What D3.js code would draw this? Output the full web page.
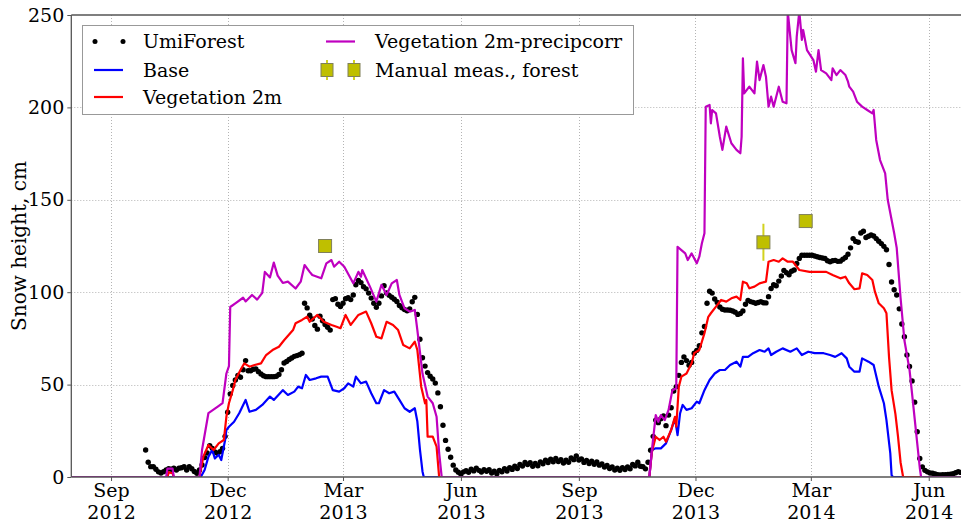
<!DOCTYPE html>
<html>
<head>
<meta charset="utf-8">
<script src="https://cdn.jsdelivr.net/npm/d3@7"></script>
<style>
  body { margin: 0; background: #fff; }
  svg { display: block; }
  text { font-family: "DejaVu Serif", serif; fill: #000; }
</style>
</head>
<body>
<svg id="chart" width="961" height="523"></svg>
<script>
// ---- Data ---------------------------------------------------------------
// UmiForest observed snow depth: one reading every umiStepDays from umiStart
const umiStart = "2012-09-28";
const umiStepDays = 2;
const umiValues = [
  14.6, 8, 5.6, 5.6, 4.2, 2.8, 2.2, 2.9, 3.8, 4.5,
  4.2, 4.7, 3.8, 4.7, 5, 5.6, 3.8, 5.6, 4.5, 3,
  2, 3.8, 6.5, 10.5, 13, 17, 15.5, 13.5, 12.8, 13.7,
  15.5, 22, 35, 45, 49.5, 52.5, 55, 54, 58, 63,
  57.5, 57.5, 58.3, 58.5, 57, 55.7, 54.8, 54.3, 54.3, 54.3,
  54.3, 54.5, 55.5, 58, 61.7, 62.5, 63.6, 64.4, 65.3, 65.7,
  66.2, 67, 94, 91.5, 87.5, 85.5, 82, 80, 87, 84.5,
  82.5, 81, 79.5, 96, 96.5, 93.5, 92.2, 94, 96.5, 97,
  96, 98.5, 104, 106.3, 105.2, 103, 101.8, 99.5, 96.8, 94,
  91.8, 94, 98, 103.5, 99.6, 98.3, 97.3, 96.2, 95, 92.8,
  91.6, 90.6, 90, 91, 94.8, 97.2, 88, 74.5, 64.5, 60,
  56.5, 54.5, 53, 50.8, 45.5, 38, 28, 19.8, 15, 10.7,
  6.4, 3.8, 2.6, 1.5, 2.8, 3.4, 2.6, 4.2, 3.3, 4.8,
  3.6, 2.7, 4, 3.1, 3.9, 2.2, 3.2, 1.8, 3.6, 2.8,
  4.5, 3.2, 5, 4.1, 5.8, 4.6, 6.8, 5.9, 7.9, 6.7,
  7.8, 5.8, 7.3, 6.1, 8.2, 7.2, 9.1, 7.8, 9.6, 8.2,
  10, 8.4, 9.4, 7.6, 9.1, 8, 10.3, 9.4, 11.4, 9.2,
  9.8, 7.9, 9, 7.3, 8.5, 6.9, 8.1, 6.4, 7.1, 5.4,
  6.3, 4.6, 5.5, 3.8, 4.8, 3.6, 5.1, 4, 5.4, 4.5,
  6.8, 6, 8, 5.8, 5.6, 4.4, 8, 14.5, 22, 30.8,
  29.4, 31.5, 33, 27.8, 33.5, 37.5, 46.5, 48.9, 55, 62,
  65, 63, 60.5, 62, 67, 68.5, 71, 78, 81.5, 94,
  100.5, 99.5, 96.3, 94.4, 92, 90.8, 90.4, 90.4, 90.2, 89.8,
  89.2, 88, 88.5, 89.8, 93.5, 95.6, 94.9, 94.5, 94, 94.4,
  94.9, 94.3, 94.2, 97.6, 102, 104, 103.5, 106, 108.8, 111.8,
  110.5, 109.4, 111.3, 112, 115.5, 118.3, 120, 120, 120, 120,
  120, 119.6, 119.2, 118.8, 118.5, 118.2, 117, 116.5, 117, 117.2,
  116.7, 116.8, 117.8, 118.8, 120.5, 124, 129, 127.5, 127, 132,
  133, 129.6, 130.3, 131, 130.4, 129, 127.6, 126.3, 124.8, 123,
  115, 105.5, 101.3, 98.5, 91, 82.8, 75.9, 66, 59.8, 52,
  40.5, 24.5, 10, 5.5, 3.6, 2.8, 2.2, 2, 1.6, 1.3,
  1.1, 1.2, 1.3, 1.4, 1.5, 1.8, 2.3, 2.9, 2.5, 2.5
];

// Modelled snow depth, [date, cm]
const baseSeries = [
  ["2012-08-01",0],["2012-11-10",0],["2012-11-13",3.8],["2012-11-16",11],["2012-11-19",14.6],
  ["2012-11-21",10],["2012-11-24",12],["2012-11-26",9.2],["2012-11-29",20],["2012-11-30",25.4],
  ["2012-12-02",27.2],["2012-12-06",29.9],["2012-12-10",34.5],["2012-12-15",41.7],["2012-12-18",35.3],
  ["2012-12-23",36.3],["2012-12-28",39],["2013-01-03",43.5],["2013-01-06",41.7],["2013-01-13",47],
  ["2013-01-17",44.4],["2013-01-22",46.2],["2013-01-25",48.9],["2013-01-28",48],["2013-01-31",55.2],
  ["2013-02-03",52.5],["2013-02-08",53.4],["2013-02-12",54.3],["2013-02-17",54.3],["2013-02-21",47],
  ["2013-02-26",46.2],["2013-03-02",48],["2013-03-05",50.7],["2013-03-09",48.9],["2013-03-11",54.3],
  ["2013-03-15",50.7],["2013-03-19",51.6],["2013-03-23",45.3],["2013-03-27",39.9],["2013-03-29",39.9],
  ["2013-04-02",47],["2013-04-06",45.3],["2013-04-10",46.2],["2013-04-14",41.7],["2013-04-18",37.2],
  ["2013-04-22",35.3],["2013-04-26",37.2],["2013-04-28",30],["2013-04-30",15],["2013-05-02",3],
  ["2013-05-03",0],["2013-10-26",0],["2013-10-28",14.6],["2013-10-31",15.5],["2013-11-04",15.5],
  ["2013-11-08",18.2],["2013-11-12",25.4],["2013-11-15",31.7],["2013-11-17",22.7],["2013-11-19",34.5],
  ["2013-11-21",39],["2013-11-24",36.3],["2013-11-28",37.2],["2013-12-02",40.8],["2013-12-04",39.9],
  ["2013-12-08",47],["2013-12-12",52.5],["2013-12-16",56],["2013-12-20",57.9],["2013-12-24",57.9],
  ["2013-12-28",60.6],["2014-01-02",62.4],["2014-01-05",59.7],["2014-01-07",65],["2014-01-11",65],
  ["2014-01-15",67],["2014-01-20",68.7],["2014-01-24",67.8],["2014-01-27",69.6],["2014-01-29",66],
  ["2014-02-02",67.8],["2014-02-07",69.6],["2014-02-13",67.8],["2014-02-18",69.6],["2014-02-22",66],
  ["2014-02-27",67.8],["2014-03-04",67],["2014-03-11",67],["2014-03-16",66],["2014-03-20",65],
  ["2014-03-25",67],["2014-03-29",64.2],["2014-03-31",59.7],["2014-04-04",57],["2014-04-08",57],
  ["2014-04-10",64.2],["2014-04-15",62.4],["2014-04-19",60.6],["2014-04-23",48.9],["2014-04-27",39.9],
  ["2014-04-29",30.8],["2014-05-02",12.8],["2014-05-03",1],["2014-05-04",0],["2014-07-01",0]
];

const veg2mSeries = [
  ["2012-08-01",0],["2012-10-15",0],["2012-10-16",2.5],["2012-10-19",2],["2012-10-20",0],
  ["2012-11-09",0],["2012-11-12",11],["2012-11-16",17.3],["2012-11-20",14.6],["2012-11-24",18.2],
  ["2012-11-28",20],["2012-11-30",32.6],["2012-12-02",39.9],["2012-12-05",47],["2012-12-07",52.5],
  ["2012-12-11",57.9],["2012-12-14",61.5],["2012-12-18",59.7],["2012-12-22",60.6],["2012-12-27",61.5],
  ["2012-12-31",66],["2013-01-05",68.7],["2013-01-10",70.5],["2013-01-14",74],["2013-01-21",79.5],
  ["2013-01-23",83.2],["2013-01-28",85],["2013-02-01",86.7],["2013-02-03",84],["2013-02-09",87.7],
  ["2013-02-14",84],["2013-02-20",82.3],["2013-02-24",81.3],["2013-02-27",80.5],["2013-03-03",87.7],
  ["2013-03-07",82.3],["2013-03-13",87.7],["2013-03-16",88.6],["2013-03-19",89.5],["2013-03-23",83.2],
  ["2013-03-27",75.9],["2013-03-31",75],["2013-04-04",84],["2013-04-09",82.3],["2013-04-13",79.5],
  ["2013-04-17",71.4],["2013-04-22",69.6],["2013-04-26",73.2],["2013-04-28",68.7],["2013-05-01",48.9],
  ["2013-05-04",39.9],["2013-05-05",41.7],["2013-05-06",21.8],["2013-05-10",21.8],["2013-05-13",16.4],
  ["2013-05-15",0],["2013-10-26",0],["2013-10-28",13.7],["2013-10-31",21.8],["2013-11-03",20],
  ["2013-11-06",21.8],["2013-11-08",19.1],["2013-11-12",25.4],["2013-11-15",32.6],["2013-11-16",27.2],
  ["2013-11-18",48.9],["2013-11-20",54.3],["2013-11-24",56],["2013-11-28",61.5],["2013-11-30",67],
  ["2013-12-04",68.7],["2013-12-08",77.8],["2013-12-11",86.7],["2013-12-13",88.6],["2013-12-17",92.2],
  ["2013-12-21",95.8],["2013-12-25",94.9],["2013-12-29",96.7],["2014-01-02",97.6],["2014-01-05",95.8],
  ["2014-01-07",105.7],["2014-01-10",104.8],["2014-01-12",102.1],["2014-01-16",103],["2014-01-20",104.8],
  ["2014-01-25",105.7],["2014-01-27",116.5],["2014-01-31",117.4],["2014-02-04",116.5],["2014-02-07",118.3],
  ["2014-02-11",116.5],["2014-02-15",116.5],["2014-02-18",113.8],["2014-02-20",112],["2014-02-28",111],
  ["2014-03-08",111],["2014-03-13",111],["2014-03-18",109.3],["2014-03-24",107.5],["2014-03-28",108.4],
  ["2014-03-31",104.8],["2014-04-04",101.6],["2014-04-08",102.1],["2014-04-10",110.2],["2014-04-14",109.3],
  ["2014-04-18",106.6],["2014-04-20",100.3],["2014-04-23",94],["2014-04-27",91.3],["2014-04-29",88.6],
  ["2014-05-01",65],["2014-05-03",47],["2014-05-06",34],["2014-05-08",22],["2014-05-10",8],
  ["2014-05-12",0],["2014-07-01",0]
];

const veg2mPrecipSeries = [
  ["2012-08-01",0],["2012-10-14",0],["2012-10-15",4.5],["2012-10-19",4.5],["2012-10-20",0],
  ["2012-11-09",0],["2012-11-11",14.6],["2012-11-16",34.6],["2012-11-23",38],["2012-11-27",40],
  ["2012-11-30",56],["2012-12-02",60],["2012-12-03",92],["2012-12-07",94],["2012-12-13",97],
  ["2012-12-15",95],["2012-12-20",98.5],["2012-12-24",96],["2012-12-28",99.6],["2012-12-30",111],
  ["2013-01-03",108],["2013-01-06",116],["2013-01-09",109],["2013-01-13",105],["2013-01-17",105.7],
  ["2013-01-23",102],["2013-01-27",105.7],["2013-01-30",114.7],["2013-02-03",111],["2013-02-05",109.3],
  ["2013-02-12",107.5],["2013-02-16",115.6],["2013-02-20",117.4],["2013-02-22",113.8],["2013-02-26",116.5],
  ["2013-03-02",113.8],["2013-03-09",104.8],["2013-03-13",111],["2013-03-15",108.4],["2013-03-16",112],
  ["2013-03-22",103],["2013-03-27",94.9],["2013-03-31",104],["2013-04-04",98.5],["2013-04-08",104.8],
  ["2013-04-12",106.6],["2013-04-14",98.5],["2013-04-18",91.3],["2013-04-22",89.5],["2013-04-26",90.4],
  ["2013-04-28",79.5],["2013-05-02",56],["2013-05-06",43.5],["2013-05-10",39.9],["2013-05-13",32.6],
  ["2013-05-15",13],["2013-05-17",0],["2013-10-26",0],["2013-10-28",14.6],["2013-10-31",33.5],
  ["2013-11-02",29.9],["2013-11-04",33.5],["2013-11-07",30.8],["2013-11-10",36.3],["2013-11-13",47],
  ["2013-11-16",48],["2013-11-17",124.6],["2013-11-20",122.8],["2013-11-23",121],["2013-11-25",117.4],
  ["2013-11-28",121],["2013-12-02",115.6],["2013-12-04",119.2],["2013-12-06",126.5],["2013-12-08",131.9],
  ["2013-12-09",200.4],["2013-12-12",201.3],["2013-12-13",191.4],["2013-12-14",198.6],["2013-12-17",196.8],
  ["2013-12-20",184.1],["2013-12-22",177],["2013-12-25",189.6],["2013-12-29",180.6],["2014-01-02",177],
  ["2014-01-05",175.2],["2014-01-06",184.1],["2014-01-07",226.6],["2014-01-08",207.6],["2014-01-12",211.2],
  ["2014-01-16",207.6],["2014-01-18",224.8],["2014-01-20",214.8],["2014-01-23",222.9],["2014-01-25",216.6],
  ["2014-01-27",200.4],["2014-01-29",205.8],["2014-01-31",200.4],["2014-02-04",211.2],["2014-02-07",203.1],
  ["2014-02-10",202.2],["2014-02-11",252],["2014-02-14",231],["2014-02-17",223.9],["2014-02-18",238.3],
  ["2014-02-20",252],["2014-02-22",236.5],["2014-02-23",241.9],["2014-02-26",231],["2014-03-03",225.6],
  ["2014-03-05",219.3],["2014-03-07",231],["2014-03-09",220.2],["2014-03-13",218.4],["2014-03-17",214.8],
  ["2014-03-18",221.1],["2014-03-21",217.5],["2014-03-24",220.2],["2014-03-28",217.5],["2014-03-30",213.9],
  ["2014-03-31",211.2],["2014-04-03",208.5],["2014-04-06",203.1],["2014-04-10",200.4],["2014-04-14",198.6],
  ["2014-04-18",196.8],["2014-04-19",198.6],["2014-04-21",182.4],["2014-04-24",171.5],["2014-04-28",164.3],
  ["2014-04-30",150],["2014-05-05",132],["2014-05-07",124],["2014-05-10",97],["2014-05-13",74],
  ["2014-05-17",58],["2014-05-19",45],["2014-05-22",25],["2014-05-25",5],["2014-05-26",0],
  ["2014-07-01",0]
];

// Manual snow depth measurements in the forest, with spread
const manualDates = ["2013-02-15", "2014-01-23", "2014-02-25"];
const manualValues = [125, 127, 138.5];
const manualErrors = [2, 10, 2];

// Axis ticks
const xTickDates = ["2012-09-01","2012-12-01","2013-03-01","2013-06-01",
                    "2013-09-01","2013-12-01","2014-03-01","2014-06-01"];
const yTicks = [0, 50, 100, 150, 200, 250];

// ---- Chart --------------------------------------------------------------
const parse = d3.timeParse("%Y-%m-%d");
const svg = d3.select("#chart");

const plot = { left: 71.3, right: 967.2, top: 15, bottom: 477 };

const x = d3.scaleTime()
  .domain([parse("2012-08-01"), parse("2014-07-01")])
  .range([plot.left, plot.right]);
const y = d3.scaleLinear().domain([0, 250]).range([plot.bottom, plot.top]);

const colors = { base: "#0000ff", veg: "#ff0000", precip: "#bf00bf", manual: "#bfbf00" };

svg.append("defs").append("clipPath").attr("id", "plotClip")
  .append("rect")
  .attr("x", plot.left).attr("y", plot.top)
  .attr("width", plot.right - plot.left).attr("height", plot.bottom - plot.top);

// grid
const grid = svg.append("g").attr("stroke", "#b4b4b4").attr("stroke-width", 1)
  .attr("stroke-dasharray", "1,2");
grid.selectAll("line.h").data(yTicks.filter(v => v > 0 && v < 250)).join("line")
  .attr("x1", plot.left).attr("x2", plot.right)
  .attr("y1", d => Math.round(y(d)) + 0.5).attr("y2", d => Math.round(y(d)) + 0.5);
grid.selectAll("line.v").data(xTickDates).join("line")
  .attr("x1", d => Math.round(x(parse(d))) + 0.5).attr("x2", d => Math.round(x(parse(d))) + 0.5)
  .attr("y1", plot.top).attr("y2", plot.bottom);

// data layer
const layer = svg.append("g").attr("clip-path", "url(#plotClip)");

const umiData = umiValues.map((v, i) => ({
  date: d3.timeDay.offset(parse(umiStart), i * umiStepDays), v
}));
layer.append("g").selectAll("circle").data(umiData).join("circle")
  .attr("cx", d => x(d.date)).attr("cy", d => y(d.v)).attr("r", 2.7)
  .attr("fill", "#000");

const line = d3.line().x(d => x(parse(d[0]))).y(d => y(d[1]));
[[baseSeries, colors.base], [veg2mSeries, colors.veg], [veg2mPrecipSeries, colors.precip]]
  .forEach(([data, c]) => {
    layer.append("path").datum(data).attr("d", line)
      .attr("fill", "none").attr("stroke", c).attr("stroke-width", 2.2)
      .attr("stroke-linejoin", "round");
  });

// manual measurements with error bars
const manual = manualDates.map((d, i) => ({ date: parse(d), v: manualValues[i], e: manualErrors[i] }));
const mg = layer.append("g");
mg.selectAll("line").data(manual).join("line")
  .attr("x1", d => x(d.date)).attr("x2", d => x(d.date))
  .attr("y1", d => y(d.v - d.e)).attr("y2", d => y(d.v + d.e))
  .attr("stroke", "#d2d21e").attr("stroke-width", 2);
mg.selectAll("rect").data(manual).join("rect")
  .attr("x", d => x(d.date) - 6.5).attr("y", d => y(d.v) - 6.5)
  .attr("width", 13).attr("height", 13)
  .attr("fill", colors.manual).attr("stroke", "#80805a").attr("stroke-width", 1);

// spines
const spine = svg.append("g").attr("stroke", "#555").attr("stroke-width", 1.3);
spine.append("line").attr("x1", plot.left).attr("x2", plot.left).attr("y1", plot.top).attr("y2", plot.bottom);
spine.append("line").attr("x1", plot.left).attr("x2", plot.right).attr("y1", plot.top).attr("y2", plot.top);
spine.append("line").attr("x1", plot.left).attr("x2", plot.right).attr("y1", plot.bottom).attr("y2", plot.bottom);

// y axis
const yAxis = svg.append("g").attr("transform", `translate(${plot.left},0)`)
  .call(d3.axisLeft(y).tickValues(yTicks).tickSize(4).tickPadding(3).tickFormat(d3.format("d")));
yAxis.select(".domain").remove();
yAxis.selectAll(".tick line").attr("stroke", "#555");
yAxis.selectAll(".tick text").attr("font-size", 19).attr("font-family", "DejaVu Serif");

// x axis with month / year on two lines
const fmtMonth = d3.timeFormat("%b"), fmtYear = d3.timeFormat("%Y");
const xAxis = svg.append("g").attr("transform", `translate(0,${plot.bottom})`)
  .call(d3.axisBottom(x).tickValues(xTickDates.map(parse)).tickSize(4).tickFormat(""));
xAxis.select(".domain").remove();
xAxis.selectAll(".tick line").attr("stroke", "#555");
xAxis.selectAll(".tick").each(function(d) {
  const t = d3.select(this).append("text")
    .attr("text-anchor", "middle").attr("font-size", 19).attr("fill", "#000");
  t.append("tspan").attr("x", 0).attr("y", 20).text(fmtMonth(d));
  t.append("tspan").attr("x", 0).attr("y", 42).text(fmtYear(d));
});

// y label
svg.append("text")
  .attr("transform", `translate(26,${(plot.top + plot.bottom) / 2}) rotate(-90)`)
  .attr("text-anchor", "middle").attr("font-size", 20)
  .text("Snow height, cm");

// legend
const lg = svg.append("g");
lg.append("rect").attr("x", 82.5).attr("y", 25.5).attr("width", 551).attr("height", 89)
  .attr("fill", "#fff").attr("stroke", "#999").attr("stroke-width", 1);

const rows = [41.5, 70, 97];
const legendItems = [
  { col: 0, row: 0, label: "UmiForest", kind: "dots" },
  { col: 0, row: 1, label: "Base", kind: "line", color: colors.base },
  { col: 0, row: 2, label: "Vegetation 2m", kind: "line", color: colors.veg },
  { col: 1, row: 0, label: "Vegetation 2m-precipcorr", kind: "line", color: colors.precip },
  { col: 1, row: 1, label: "Manual meas., forest", kind: "manual" }
];
const colX = [94, 326];
legendItems.forEach(it => {
  const x0 = colX[it.col], yy = rows[it.row];
  if (it.kind === "line") {
    lg.append("line").attr("x1", x0).attr("x2", x0 + 29).attr("y1", yy).attr("y2", yy)
      .attr("stroke", it.color).attr("stroke-width", 2.2);
  } else if (it.kind === "dots") {
    [x0 + 1, x0 + 29].forEach(cx => lg.append("circle").attr("cx", cx).attr("cy", yy).attr("r", 2.5).attr("fill", "#000"));
  } else {
    [x0 + 1, x0 + 28].forEach(cx => {
      lg.append("line").attr("x1", cx).attr("x2", cx).attr("y1", yy - 10).attr("y2", yy + 10)
        .attr("stroke", "#d2d21e").attr("stroke-width", 2);
      lg.append("rect").attr("x", cx - 6).attr("y", yy - 6.5).attr("width", 12).attr("height", 13)
        .attr("fill", colors.manual).attr("stroke", "#80805a").attr("stroke-width", 1);
    });
  }
  lg.append("text").attr("x", x0 + 49).attr("y", yy).attr("dy", "0.35em")
    .attr("font-size", 19).text(it.label);
});
</script>
</body>
</html>
